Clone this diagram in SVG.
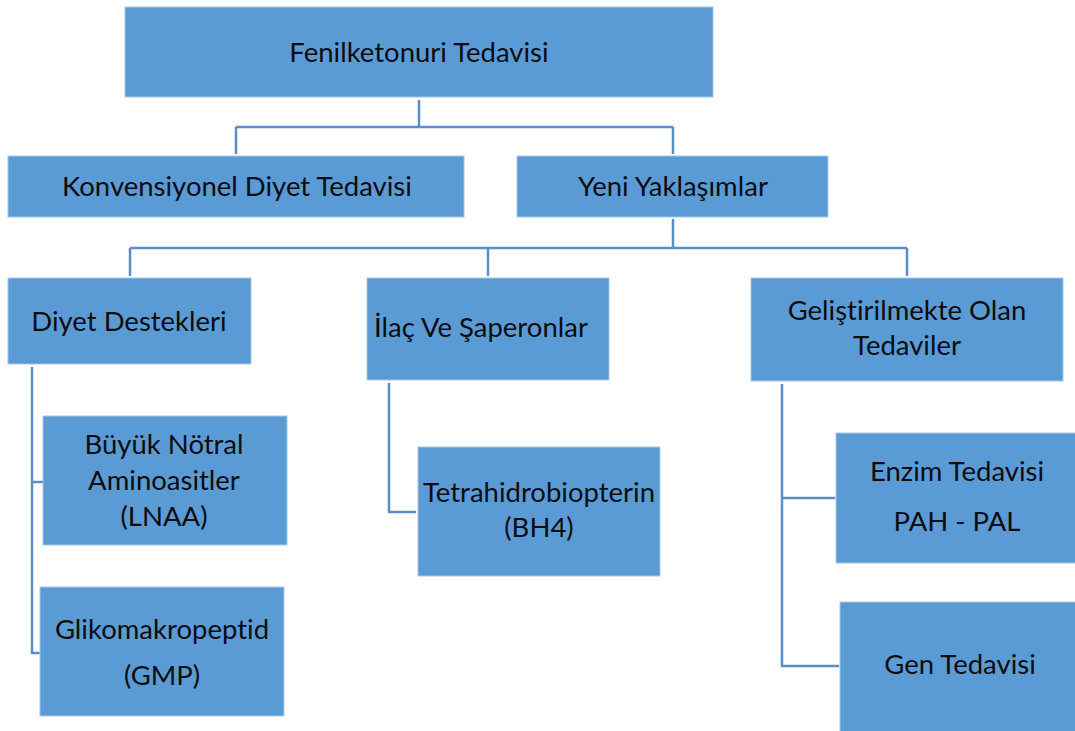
<svg xmlns="http://www.w3.org/2000/svg" width="1075" height="731" viewBox="0 0 1075 731">
  <style>
    .box { fill: #5B9BD5; stroke: #A9C8E8; stroke-width: 1; }
    .lbl { font-family: Lato, "Open Sans", "Liberation Sans", sans-serif; font-size: 27.5px; fill: #0d0d0d; text-anchor: middle; font-variant-ligatures: none; }
    .wire { fill: none; stroke: #5B8EC9; stroke-width: 2.5; }
  </style>
  <rect width="1075" height="731" fill="#ffffff"/>

  <g id="connectors">
    <path class="wire" d="M419 100 V127 M236 127 H673 M236 127 V154 M673 127 V154"/>
    <path class="wire" d="M673 219 V248 M130 248 H907 M130 248 V276 M488 248 V276 M907 248 V276"/>
    <path class="wire" d="M32 367 V653 H40 M32 482 H43"/>
    <path class="wire" d="M389 383 V512 H416"/>
    <path class="wire" d="M782 384 V666 H839 M782 498 H835"/>
  </g>

  <g id="root">
    <rect class="box" x="125" y="7" width="588" height="90"/>
    <text class="lbl" x="419" y="62">Fenilketonuri Tedavisi</text>
  </g>
  <g id="konvansiyonel">
    <rect class="box" x="8" y="156" width="456" height="61"/>
    <text class="lbl" x="237" y="196">Konvensiyonel Diyet Tedavisi</text>
  </g>
  <g id="yeni">
    <rect class="box" x="517" y="156" width="311" height="61"/>
    <text class="lbl" x="673" y="196">Yeni Yaklaşımlar</text>
  </g>
  <g id="diyet-destekleri">
    <rect class="box" x="8" y="278" width="243" height="86"/>
    <text class="lbl" x="129" y="331">Diyet Destekleri</text>
  </g>
  <g id="ilac">
    <rect class="box" x="367" y="278" width="242" height="102"/>
    <text class="lbl" x="481" y="337">İlaç Ve Şaperonlar</text>
  </g>
  <g id="gelistirilmekte">
    <rect class="box" x="751" y="278" width="312" height="103"/>
    <text class="lbl" x="907" y="320">Geliştirilmekte Olan</text>
    <text class="lbl" x="907" y="355">Tedaviler</text>
  </g>
  <g id="lnaa">
    <rect class="box" x="43" y="416" width="244" height="129"/>
    <text class="lbl" x="164" y="454">Büyük Nötral</text>
    <text class="lbl" x="164" y="490">Aminoasitler</text>
    <text class="lbl" x="164" y="526">(LNAA)</text>
  </g>
  <g id="gmp">
    <rect class="box" x="40" y="587" width="244" height="129"/>
    <text class="lbl" x="162" y="639">Glikomakropeptid</text>
    <text class="lbl" x="162" y="685">(GMP)</text>
  </g>
  <g id="bh4">
    <rect class="box" x="418" y="447" width="242" height="129"/>
    <text class="lbl" x="539" y="502">Tetrahidrobiopterin</text>
    <text class="lbl" x="539" y="537">(BH4)</text>
  </g>
  <g id="enzim">
    <rect class="box" x="836" y="433" width="245" height="130"/>
    <text class="lbl" x="957" y="481">Enzim Tedavisi</text>
    <text class="lbl" x="957" y="531">PAH - PAL</text>
  </g>
  <g id="gen">
    <rect class="box" x="840" y="602" width="241" height="135"/>
    <text class="lbl" x="960" y="674">Gen Tedavisi</text>
  </g>
</svg>
